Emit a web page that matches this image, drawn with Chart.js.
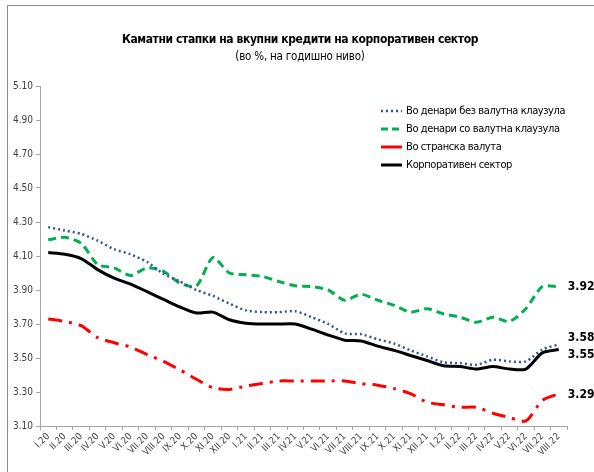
<!DOCTYPE html>
<html>
<head>
<meta charset="utf-8">
<script src="https://cdn.jsdelivr.net/npm/chart.js@4.4.1/dist/chart.umd.min.js"></script>
<style>
  html, body { margin:0; padding:0; background:#fff; }
  #wrap { position:relative; width:594px; height:472px; overflow:hidden; font-family:"DejaVu Sans Condensed","Liberation Sans Narrow","DejaVu Sans",sans-serif; }
  #frame { position:absolute; left:7px; top:5px; width:700px; height:600px; border:1px solid #8c8c8c; }
  #c { position:absolute; left:0; top:0; }
  .title { position:absolute; left:0; width:600px; text-align:center; color:#000; }
  #t1 { top:32px; font-size:12px; font-weight:bold; letter-spacing:-0.4px; }
  #t2 { top:49px; font-size:11.5px; letter-spacing:-0.2px; }
  #legend { position:absolute; left:380px; top:103px; }
  .row { position:relative; height:18px; font-size:11px; letter-spacing:-0.4px; color:#000; white-space:nowrap; }
  .row svg { position:absolute; left:0; top:3px; }
  .row span { position:absolute; left:26px; top:1px; }
</style>
</head>
<body>
<div id="wrap">
  <div id="frame"></div>
  <canvas id="c" width="594" height="472"></canvas>
  <div class="title" id="t1">Каматни стапки на вкупни кредити на корпоративен сектор</div>
  <div class="title" id="t2">(во %, на годишно ниво)</div>
  <div id="legend"></div>
</div>
<script>
const categories = ["I.20","II.20","III.20","IV.20","V.20","VI.20","VII.20","VIII.20","IX.20","X.20","XI.20","XII.20",
  "I.21","II.21","III.21","IV.21","V.21","VI.21","VII.21","VIII.21","IX.21","X.21","XI.21","XII.21",
  "I.22","II.22","III.22","IV.22","V.22","VI.22","VII.22","VIII.22"];

const seriesNames = ["Во денари без валутна клаузула","Во денари со валутна клаузула","Во странска валута","Корпоративен сектор"];

const denariNoClause = [4.27,4.25,4.23,4.19,4.14,4.11,4.065,3.995,3.95,3.90,3.865,3.82,3.78,3.77,3.77,3.775,3.74,3.70,3.645,3.64,3.61,3.585,3.545,3.51,3.475,3.47,3.46,3.49,3.48,3.48,3.55,3.58];
const denariClause = [4.195,4.21,4.175,4.05,4.03,3.985,4.03,4.01,3.94,3.925,4.09,4.00,3.99,3.98,3.95,3.925,3.92,3.90,3.84,3.875,3.84,3.81,3.77,3.79,3.76,3.74,3.71,3.74,3.715,3.79,3.92,3.92];
const foreignCurrency = [3.73,3.715,3.69,3.62,3.59,3.565,3.52,3.48,3.43,3.375,3.325,3.315,3.335,3.35,3.365,3.365,3.365,3.365,3.365,3.35,3.34,3.32,3.29,3.24,3.225,3.21,3.21,3.175,3.15,3.13,3.25,3.29];
const corporate = [4.12,4.11,4.085,4.02,3.97,3.935,3.89,3.845,3.80,3.765,3.77,3.725,3.705,3.70,3.70,3.70,3.67,3.635,3.605,3.60,3.57,3.545,3.515,3.485,3.455,3.45,3.435,3.45,3.435,3.435,3.53,3.55];

const yMin = 3.1, yMax = 5.1, yStep = 0.2;

const styles = [
  {color:"#2f5597", width:2.5, dash:[2,3], labelDy:-7, legendDash:"2 3"},
  {color:"#00b050", width:3, dash:[8,5], labelDy:0, legendDash:"7 4"},
  {color:"#ff0000", width:3, dash:[14,7,3,7], labelDy:1, legendDash:""},
  {color:"#000000", width:3, dash:[], labelDy:5, legendDash:""}
];
const values = [denariNoClause, denariClause, foreignCurrency, corporate];

// HTML legend
const leg = document.getElementById('legend');
seriesNames.forEach((n,i)=>{
  const s = styles[i];
  const row = document.createElement('div');
  row.className='row';
  row.innerHTML = '<svg width="24" height="10"><line x1="1" y1="5" x2="22" y2="5" stroke="'+s.color+'" stroke-width="'+s.width+'"'+(s.legendDash?' stroke-dasharray="'+s.legendDash+'"':'')+'/></svg><span>'+n+'</span>';
  leg.appendChild(row);
});

const endLabels = {
  id:'endLabels',
  afterDatasetsDraw(chart){
    const ctx = chart.ctx;
    ctx.save();
    ctx.font = 'bold 12px "DejaVu Sans Condensed","DejaVu Sans",sans-serif';
    ctx.fillStyle = '#000';
    ctx.textBaseline = 'middle';
    ctx.textAlign = 'left';
    chart.data.datasets.forEach((ds,i)=>{
      const meta = chart.getDatasetMeta(i);
      const last = meta.data[meta.data.length-1];
      const v = ds.data[ds.data.length-1];
      ctx.fillText(v.toFixed(2), last.x + 9, last.y + styles[i].labelDy);
    });
    ctx.restore();
  }
};

new Chart(document.getElementById('c'), {
  type:'line',
  data:{
    labels: categories,
    datasets: values.map((v,i)=>({
      label: seriesNames[i],
      data: v,
      borderColor: styles[i].color,
      backgroundColor: styles[i].color,
      borderWidth: styles[i].width,
      borderDash: styles[i].dash,
      pointRadius:0,
      tension:0.25,
      fill:false
    }))
  },
  options:{
    responsive:false,
    animation:false,
    layout:{ padding:{ top:86, right:27, bottom:0, left:0 } },
    plugins:{ legend:{display:false}, tooltip:{enabled:false}, title:{display:false} },
    scales:{
      x:{
        offset:true,
        grid:{ display:true, drawOnChartArea:false, drawTicks:true, tickLength:4, color:'#a6a6a6', offset:true },
        border:{ display:true, color:'#a6a6a6', width:1 },
        ticks:{ minRotation:45, maxRotation:45, autoSkip:false, color:'#404040', padding:1,
          font:{ family:'"DejaVu Sans Condensed","DejaVu Sans",sans-serif', size:9.5 } },
        afterFit(scale){ scale.height = 46; }
      },
      y:{
        min:yMin, max:yMax,
        grid:{ display:true, drawOnChartArea:false, drawTicks:true, tickLength:4, color:'#a6a6a6' },
        border:{ display:true, color:'#a6a6a6', width:1 },
        ticks:{ stepSize:yStep, color:'#404040', padding:3,
          font:{ family:'"DejaVu Sans Condensed","DejaVu Sans",sans-serif', size:10 },
          callback:(v)=>Number(v).toFixed(2) },
        afterFit(scale){ scale.width = 40; }
      }
    }
  },
  plugins:[endLabels]
});
</script>
</body>
</html>
